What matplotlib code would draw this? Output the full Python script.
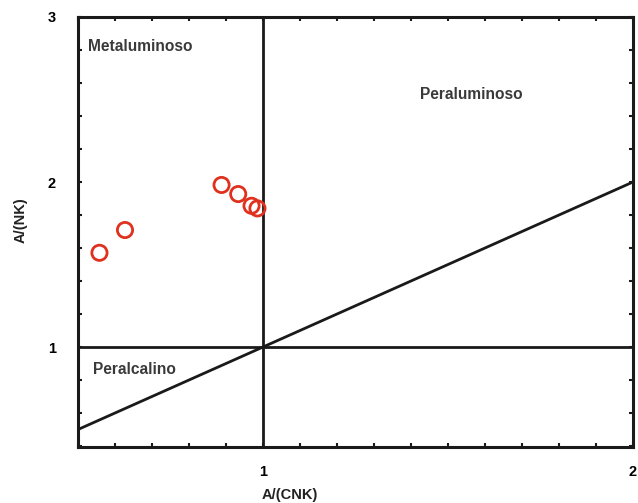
import matplotlib
matplotlib.use("Agg")
import matplotlib.pyplot as plt
from matplotlib.ticker import MultipleLocator, FixedLocator

# Sample compositions: A/CNK and A/NK molar ratios
a_cnk = [0.558, 0.627, 0.888, 0.933, 0.969, 0.985]
a_nk = [1.571, 1.709, 1.982, 1.927, 1.856, 1.840]

# Field boundaries
boundary_x = [0.5, 2.0]
boundary_y = [0.5, 2.0]

x_ticks = [1, 2]
y_ticks = [1, 2, 3]

plt.rcParams["font.family"] = ["Liberation Sans", "DejaVu Sans"]
plt.rcParams["font.weight"] = "bold"

fig = plt.figure(figsize=(6.38, 5.03), dpi=100)
ax = fig.add_axes([78 / 638, 1 - 447 / 503, (633 - 78) / 638, (447 - 17) / 503])

ax.set_xlim(0.5, 2.0)
ax.set_ylim(0.394, 3.0)

lw = 2.0
ax.axvline(1.0, color="#1a1a1a", lw=lw, zorder=2)
ax.axhline(1.0, color="#1a1a1a", lw=lw, zorder=2)
ax.plot(boundary_x, boundary_y, color="#1a1a1a", lw=lw, zorder=2, clip_on=True)

ax.scatter(a_cnk, a_nk, s=120, facecolors="none", edgecolors="#e0301e",
           linewidths=2.0, zorder=3)

label_kw = dict(fontsize=11.2, fontweight="bold", color="#3a3a3a", va="center", ha="left")
ax.text(0.527, 2.82, "Metaluminoso", **label_kw)
ax.text(1.424, 2.53, "Peraluminoso", **label_kw)
ax.text(0.541, 0.866, "Peralcalino", **label_kw)

for s in ax.spines.values():
    s.set_linewidth(2.2)
    s.set_color("#1a1a1a")

ax.xaxis.set_major_locator(FixedLocator(x_ticks))
ax.yaxis.set_major_locator(FixedLocator(y_ticks))
ax.xaxis.set_minor_locator(MultipleLocator(0.1))
ax.yaxis.set_minor_locator(MultipleLocator(0.2))
ax.set_xticklabels([str(v) for v in x_ticks])
ax.set_yticklabels([str(v) for v in y_ticks])

ax.tick_params(which="both", direction="in", top=True, right=True,
               length=3, width=1.5, color="#1a1a1a")
ax.tick_params(axis="x", which="major", pad=13, labelsize=10.5)
ax.tick_params(axis="y", which="major", pad=16, labelsize=10.5)

ax.set_xlabel("A/(CNK)", fontsize=10.5, fontweight="bold", color="#222222")
ax.xaxis.set_label_coords(0.382, -0.095)
ax.set_ylabel("A/(NK)", fontsize=10.5, fontweight="bold", color="#222222")
ax.yaxis.set_label_coords(-0.09, 0.528)

fig.savefig("out.png", dpi=100)
